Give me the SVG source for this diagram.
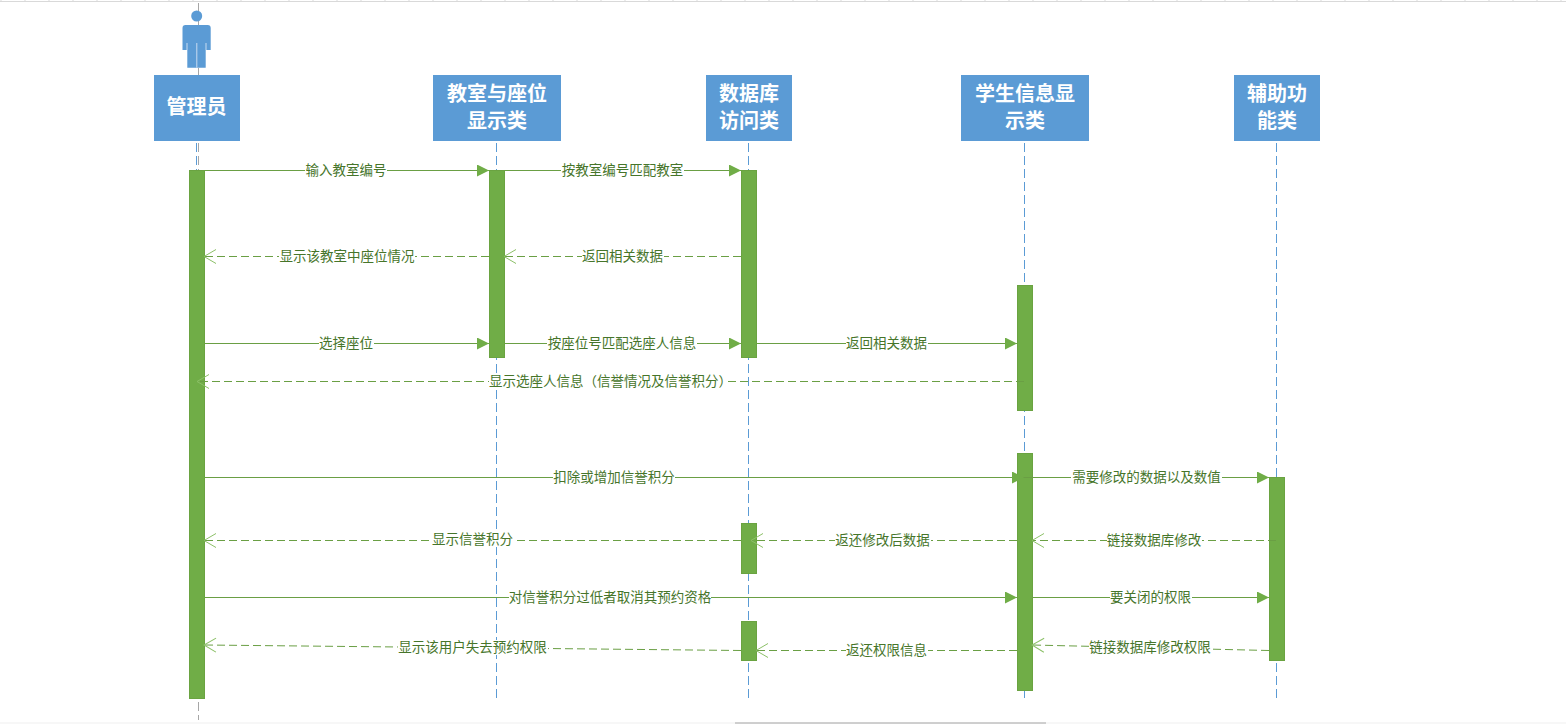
<svg xmlns="http://www.w3.org/2000/svg" width="1566" height="724" viewBox="0 0 1566 724">
<style>
text{font-family:"Noto Sans CJK SC","Liberation Sans",sans-serif}
.h{fill:#5b9bd5}
.ht{fill:#fff;font-size:20px;font-weight:700;text-anchor:middle}
.ll{stroke:#5b9bd5;stroke-width:1;stroke-dasharray:9 4;fill:none}
.lg{stroke:#a6a6a6;stroke-width:1;stroke-dasharray:9 4;fill:none}
.bar{fill:#70ad47;stroke:#6aa341;stroke-width:1}
.s{stroke:#6a9f44;stroke-width:1;fill:none}
.d{stroke:#6a9f44;stroke-width:1;stroke-dasharray:8 4;fill:none}
.l{fill:#46752a;font-size:13.5px;text-anchor:middle}
.bg{fill:#fff}
</style>
<defs>
<marker id="solid" markerUnits="userSpaceOnUse" markerWidth="12" markerHeight="12" refX="12" refY="6" orient="auto"><path d="M0 0L12 6L0 12Z" fill="#70ad47"/></marker>
<marker id="open" markerUnits="userSpaceOnUse" markerWidth="14" markerHeight="16" refX="13" refY="8" orient="auto"><path d="M1 1L13 8L1 15" fill="none" stroke="#8cc068" stroke-width="1"/></marker>
</defs>
<rect width="1566" height="724" fill="#fff"/>
<g id="ruler"><path d="M0 1.500H1566M1 0V2M25 0V2M49 0V2M73 0V2M97 0V2M121 0V2M145 0V2M169 0V2M193 0V2M217 0V2M241 0V2M265 0V2M289 0V2M313 0V2M337 0V2M361 0V2M385 0V2M409 0V2M433 0V2M457 0V2M481 0V2M505 0V2M529 0V2M553 0V2M577 0V2M601 0V2M625 0V2M649 0V2M673 0V2M697 0V2M721 0V2M745 0V2M769 0V2M793 0V2M817 0V2M841 0V2M865 0V2M889 0V2M913 0V2M937 0V2M961 0V2M985 0V2M1009 0V2M1033 0V2M1057 0V2M1081 0V2M1105 0V2M1129 0V2M1153 0V2M1177 0V2M1201 0V2M1225 0V2M1249 0V2M1273 0V2M1297 0V2M1321 0V2M1345 0V2M1369 0V2M1393 0V2M1417 0V2M1441 0V2M1465 0V2M1489 0V2M1513 0V2M1537 0V2M1561 0V2" stroke="#d9d9d9" fill="none"/><path d="M0 723H1566" stroke="#efefef"/><path d="M735 723H1046" stroke="#a6a6a6"/></g>
<g id="lifelines">
<path class="lg" d="M198.500 3V75M198.500 143V720"/>
<path class="ll" d="M196.500 143V170"/>
<path class="ll" d="M496.500 143V699"/>
<path class="ll" d="M748.500 143V699"/>
<path class="ll" d="M1024.500 143V699"/>
<path class="ll" d="M1276.500 143V699"/>
</g>
<g id="actor"><circle class="h" cx="196.700" cy="16" r="5.500"/><path class="h" d="M185.500 25H207.700Q210.700 25 210.700 28V50H205.700V67.700H187.300V50H182.500V28Q182.500 25 185.500 25Z"/><path d="M196.800 43V67.700M187 43V50M206 43V50" stroke="#c9dcf1" stroke-width="1" fill="none"/></g>
<g id="n1"><rect class="h" x="154" y="75" width="86" height="66"/><text class="ht" x="196.500" y="114">管理员</text></g>
<g id="n2"><rect class="h" x="433" y="75" width="128" height="66"/><text class="ht" x="497" y="100.500">教室与座位</text><text class="ht" x="497" y="127.500">显示类</text></g>
<g id="n3"><rect class="h" x="706" y="75" width="86" height="66"/><text class="ht" x="749" y="100.500">数据库</text><text class="ht" x="749" y="127.500">访问类</text></g>
<g id="n4"><rect class="h" x="961" y="75" width="128" height="66"/><text class="ht" x="1025" y="100.500">学生信息显</text><text class="ht" x="1025" y="127.500">示类</text></g>
<g id="n5"><rect class="h" x="1234" y="75" width="86" height="66"/><text class="ht" x="1277" y="100.500">辅助功</text><text class="ht" x="1277" y="127.500">能类</text></g>
<g id="bars">
<rect class="bar" x="189.500" y="170.500" width="15" height="528"/>
<rect class="bar" x="489.500" y="170.500" width="15" height="187"/>
<rect class="bar" x="741.500" y="170.500" width="15" height="187"/>
<rect class="bar" x="1017.500" y="285.500" width="15" height="125"/>
<rect class="bar" x="1017.500" y="453.500" width="15" height="237"/>
<rect class="bar" x="1269.500" y="477.500" width="15" height="183"/>
<rect class="bar" x="741.500" y="523.500" width="15" height="50"/>
<rect class="bar" x="741.500" y="621.500" width="15" height="39"/>
</g>
<g id="connectors">
<path class="s" marker-end="url(#solid)" d="M205 170.500H489"/>
<path class="s" marker-end="url(#solid)" d="M505 170.500H741"/>
<path class="d" marker-end="url(#open)" d="M741 256.500H504"/>
<path class="d" marker-end="url(#open)" d="M489 256.500H204"/>
<path class="s" marker-end="url(#solid)" d="M205 343.500H489"/>
<path class="s" marker-end="url(#solid)" d="M505 343.500H741"/>
<path class="s" marker-end="url(#solid)" d="M757 343.500H1017"/>
<path class="d" marker-end="url(#open)" d="M1024 381.500H197"/>
<path class="s" marker-end="url(#solid)" d="M205 477.500H1024"/>
<path class="s" d="M1024 477.500H1033"/>
<path class="s" marker-end="url(#solid)" d="M1033 477.500H1269"/>
<path class="d" marker-end="url(#open)" d="M1276 540.500H1032"/>
<path class="d" marker-end="url(#open)" d="M1017 540.500H751"/>
<path class="d" marker-end="url(#open)" d="M741 540.500H204"/>
<path class="s" marker-end="url(#solid)" d="M205 597.500H1017"/>
<path class="s" marker-end="url(#solid)" d="M1033 597.500H1269"/>
<path class="d" marker-end="url(#open)" d="M1269 650.500L1032 645"/>
<path class="d" marker-end="url(#open)" d="M1017 650.500H756"/>
<path class="d" marker-end="url(#open)" d="M741 650.500L204 645"/>
</g>
<g id="labels">
<rect class="bg" x="305" y="163" width="82" height="15"/><text class="l" x="346" y="175">输入教室编号</text>
<rect class="bg" x="561" y="163" width="123" height="15"/><text class="l" x="622.500" y="175">按教室编号匹配教室</text>
<rect class="bg" x="279" y="249" width="136" height="15"/><text class="l" x="347" y="261">显示该教室中座位情况</text>
<rect class="bg" x="582" y="249" width="82" height="15"/><text class="l" x="622.500" y="261">返回相关数据</text>
<rect class="bg" x="319" y="336" width="55" height="15"/><text class="l" x="346" y="348">选择座位</text>
<rect class="bg" x="547" y="336" width="150" height="15"/><text class="l" x="622" y="348">按座位号匹配选座人信息</text>
<rect class="bg" x="846" y="336" width="82" height="15"/><text class="l" x="886.500" y="348">返回相关数据</text>
<rect class="bg" x="489" y="374" width="238" height="15"/><text class="l" x="610.500" y="386">显示选座人信息（信誉情况及信誉积分）</text>
<rect class="bg" x="553" y="470" width="122" height="15"/><text class="l" x="614" y="482">扣除或增加信誉积分</text>
<rect class="bg" x="1071" y="470" width="151" height="15"/><text class="l" x="1146.500" y="482">需要修改的数据以及数值</text>
<rect class="bg" x="1107" y="533" width="95" height="15"/><text class="l" x="1154" y="545">链接数据库修改</text>
<rect class="bg" x="835" y="533" width="96" height="15"/><text class="l" x="882.500" y="545">返还修改后数据</text>
<rect class="bg" x="432" y="532" width="82" height="15"/><text class="l" x="472.500" y="544">显示信誉积分</text>
<rect class="bg" x="509" y="590" width="202" height="15"/><text class="l" x="610" y="602">对信誉积分过低者取消其预约资格</text>
<rect class="bg" x="1110" y="590" width="82" height="15"/><text class="l" x="1150.500" y="602">要关闭的权限</text>
<rect class="bg" x="1089" y="640" width="123" height="15"/><text class="l" x="1150" y="652">链接数据库修改权限</text>
<rect class="bg" x="846" y="643" width="82" height="15"/><text class="l" x="886.500" y="655">返还权限信息</text>
<rect class="bg" x="398" y="640" width="150" height="15"/><text class="l" x="472.500" y="652">显示该用户失去预约权限</text>
</g>
</svg>
